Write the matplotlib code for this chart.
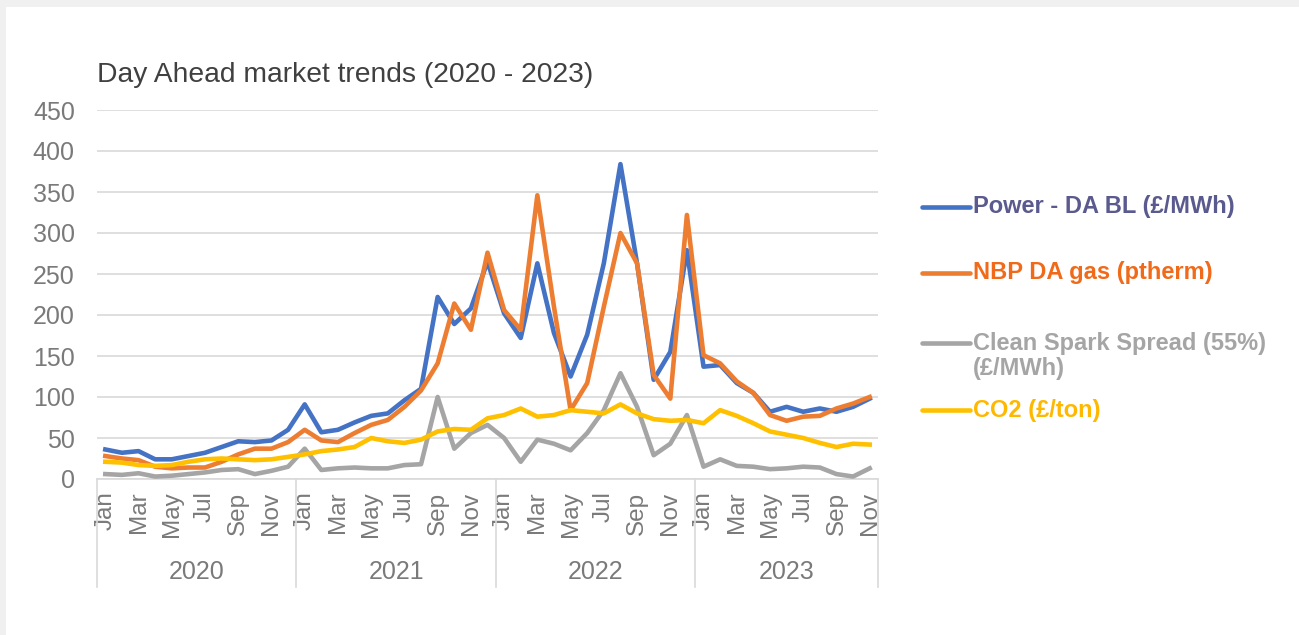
import numpy as np
import matplotlib
matplotlib.use("Agg")
import matplotlib.pyplot as plt
from matplotlib.lines import Line2D
from matplotlib.patches import Rectangle
import matplotlib.transforms as mtransforms

plt.rcParams['font.family'] = ['Liberation Sans', 'DejaVu Sans']

# Monthly data Jan 2020 - Nov 2023
years = ["2020", "2021", "2022", "2023"]
month_names = ["Jan", "Feb", "Mar", "Apr", "May", "Jun",
               "Jul", "Aug", "Sep", "Oct", "Nov", "Dec"]
months = [m for y in years for m in month_names][:47]

power = [36, 32, 34, 24, 24, 28, 32, 39, 46, 45, 47, 60,
         91, 57, 60, 69, 77, 80, 96, 110, 222, 189, 208, 265,
         202, 172, 263, 178, 125, 176, 263, 384, 263, 121, 155, 279,
         137, 139, 117, 105, 82, 88, 82, 86, 82, 88, 98]
gas = [28, 25, 23, 15, 13, 14, 14, 21, 30, 37, 37, 45,
       60, 47, 45, 56, 66, 72, 88, 108, 141, 214, 182, 276,
       206, 182, 346, 210, 84, 117, 210, 300, 263, 127, 98, 322,
       151, 141, 119, 105, 78, 71, 76, 77, 86, 92, 100]
spark = [6, 5, 7, 3, 4, 6, 8, 11, 12, 6, 10, 15,
         37, 11, 13, 14, 13, 13, 17, 18, 100, 37, 56, 66,
         50, 21, 48, 43, 35, 56, 84, 129, 88, 29, 43, 78,
         15, 24, 16, 15, 12, 13, 15, 14, 6, 3, 13]
co2 = [21, 20, 17, 16, 17, 21, 24, 25, 24, 23, 24, 27,
       30, 34, 36, 39, 50, 46, 44, 48, 58, 61, 60, 74,
       78, 86, 76, 78, 84, 82, 80, 91, 80, 73, 71, 72,
       68, 84, 77, 68, 58, 54, 50, 44, 39, 43, 42]

series = [
    ("Power - DA BL (£/MWh)", power, "#4472C4", "#5A5A8E"),
    ("NBP DA gas (ptherm)", gas, "#ED7D31", "#F06A1A"),
    ("Clean Spark Spread (55%)\n(£/MWh)", spark, "#A5A5A5", "#A5A5A5"),
    ("CO2 (£/ton)", co2, "#FFC000", "#FFB800"),
]

W, H = 1299, 635
fig = plt.figure(figsize=(W / 100, H / 100), dpi=100, facecolor="#F0F0F0")
fig.add_artist(Rectangle((6 / W, 0), 1, 1 - 7 / H, transform=fig.transFigure,
                         facecolor="white", edgecolor="none", zorder=0))

ax = fig.add_axes([97 / W, (H - 479) / H, (878 - 97) / W, (479 - 110) / H])
ax.set_facecolor("none")

x = np.arange(len(months))
for name, vals, col, tcol in series:
    ax.plot(x, vals, color=col, lw=3.3, solid_joinstyle="round", zorder=3)

ax.set_xlim(-0.5, len(months) - 0.5)
ax.set_ylim(0, 450)
ax.set_yticks(np.arange(0, 451, 50))
ax.grid(axis="y", color="#D9D9D9", lw=1.2)
ax.set_axisbelow(True)
for s in ["top", "right", "left"]:
    ax.spines[s].set_visible(False)
ax.spines["bottom"].set_color("#D9D9D9")
ax.spines["bottom"].set_linewidth(1.2)

ax.set_xticks(x[::2])
ax.set_xticklabels(months[::2], rotation=90, fontsize=17.5, color="#7A7A7A")
ax.tick_params(axis="x", length=0, pad=9)
ax.tick_params(axis="y", length=0, pad=16, labelsize=18, labelcolor="#7A7A7A")

# year groups under the month labels
trans = mtransforms.blended_transform_factory(ax.transData, ax.transAxes)
bottom = -(587 - 479) / (479 - 110)
for k in range(len(years) + 1):
    xb = min(k * 12, len(months)) - 0.5
    ax.add_line(Line2D([xb, xb], [0, bottom], transform=trans, color="#D9D9D9",
                       lw=1.2, clip_on=False))
for k, y in enumerate(years):
    start = k * 12 - 0.5
    end = min((k + 1) * 12, len(months)) - 0.5
    ax.text((start + end) / 2, -(572 - 479) / (479 - 110), y, transform=trans,
            ha="center", va="center", fontsize=18, color="#7A7A7A")

fig.text(97 / W, 1 - 75 / H, "Day Ahead market trends (2020 - 2023)",
         fontsize=20.3, color="#404040", ha="left", va="center")

# legend on the right
leg_y = [207, 273, 356, 410]
for (name, vals, col, tcol), yy in zip(series, leg_y):
    line_y = yy if "\n" not in name else 343
    fig.add_artist(Line2D([922 / W, 970 / W], [1 - line_y / H] * 2, color=col,
                          lw=3.3, solid_capstyle="round", transform=fig.transFigure))
    fig.text(973 / W, 1 - yy / H, name, fontsize=17, fontweight="bold",
             color=tcol, ha="left", va="center", linespacing=1.15)

fig.savefig("out.png", dpi=100, facecolor=fig.get_facecolor())
